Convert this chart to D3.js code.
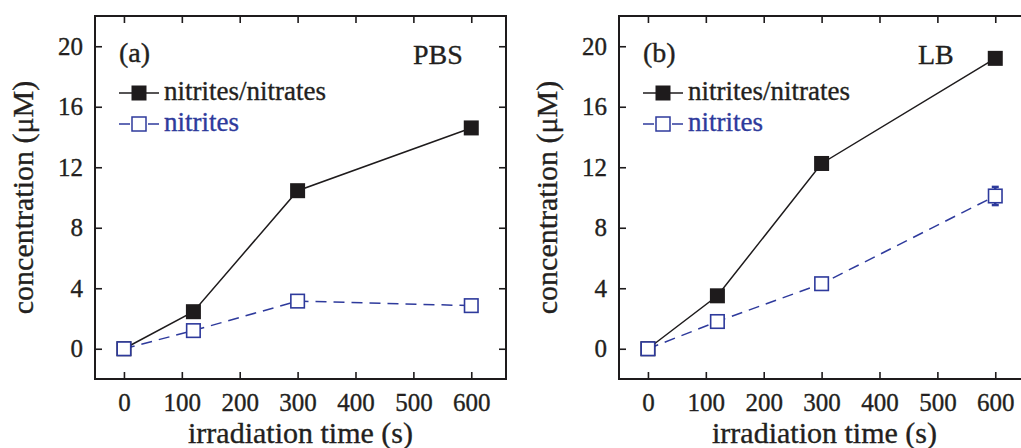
<!DOCTYPE html>
<html>
<head>
<meta charset="utf-8">
<script src="https://cdn.jsdelivr.net/npm/d3@7/dist/d3.min.js"></script>
<style>
  html, body { margin: 0; padding: 0; background: #fff; }
  svg { display: block; }
  text { font-family: "Liberation Serif", "Times New Roman", serif; fill: #231f20; stroke: #231f20; stroke-width: 0.35px; }
  text.blue { fill: #2e3a9c; stroke: #2e3a9c; }
</style>
</head>
<body>
<svg id="chart" width="1021" height="448"></svg>
<script>
// Irradiation times (s)
const times = [0, 120, 300, 600];

// Panel (a): PBS
const pbsTotal = [0, 2.45, 10.45, 14.6];     // nitrites/nitrates (µM)
const pbsNitrite = [0, 1.2, 3.15, 2.85];     // nitrites (µM)
const pbsNitriteErr = [0, 0, 0, 0];

// Panel (b): LB
const lbTotal = [0, 3.5, 12.25, 19.2];
const lbNitrite = [0, 1.8, 4.3, 10.1];
const lbNitriteErr = [0, 0, 0, 0.6];

const xTicks = [0, 100, 200, 300, 400, 500, 600];
const yTicks = [0, 4, 8, 12, 16, 20];

const black = "#1e1b1c";
const blue = "#2e3a9c";

const svg = d3.select("#chart");

const W = 411, H = 363;

function panel(left, top, label, medium, mediumX, total, nitrite, nitriteErr) {
  const g = svg.append("g").attr("transform", `translate(${left},${top})`);
  const x = d3.scaleLinear().domain([-50, 660]).range([0, W]);
  const y = d3.scaleLinear().domain([-2, 22]).range([H, 0]);

  // Inward ticks on all four sides
  const tk = 7;
  const axB = g.append("g").attr("transform", `translate(0,${H})`)
    .call(d3.axisBottom(x).tickValues(xTicks).tickSizeInner(-tk).tickSizeOuter(0).tickPadding(14));
  const axT = g.append("g")
    .call(d3.axisTop(x).tickValues(xTicks).tickSizeInner(-tk).tickSizeOuter(0).tickFormat(""));
  const axL = g.append("g")
    .call(d3.axisLeft(y).tickValues(yTicks).tickSizeInner(-tk).tickSizeOuter(0).tickPadding(12));
  const axR = g.append("g").attr("transform", `translate(${W},0)`)
    .call(d3.axisRight(y).tickValues(yTicks).tickSizeInner(-tk).tickSizeOuter(0).tickFormat(""));
  [axB, axT, axL, axR].forEach(a => {
    a.select(".domain").remove();
    a.selectAll(".tick line").attr("stroke", black).attr("stroke-width", 1.6);
    a.selectAll(".tick text").attr("font-size", 25).attr("fill", black);
  });

  // Frame
  g.append("rect").attr("x", 0).attr("y", 0).attr("width", W).attr("height", H)
    .attr("fill", "none").attr("stroke", black).attr("stroke-width", 2);

  const pts = (vals) => times.map((t, i) => [t, vals[i]]);
  const line = d3.line().x(d => x(d[0])).y(d => y(d[1]));

  g.append("path").datum(pts(total)).attr("d", line)
    .attr("fill", "none").attr("stroke", black).attr("stroke-width", 1.5);
  g.append("path").datum(pts(nitrite)).attr("d", line)
    .attr("fill", "none").attr("stroke", blue).attr("stroke-width", 1.5)
    .attr("stroke-dasharray", "11,7");

  const s = 15;
  g.selectAll(".tot").data(pts(total)).enter().append("rect")
    .attr("x", d => x(d[0]) - s / 2).attr("y", d => y(d[1]) - s / 2)
    .attr("width", s).attr("height", s).attr("fill", black);

  // Error bars on nitrites
  const cap = 3.5;
  times.forEach((t, i) => {
    const e = nitriteErr[i];
    if (!e) return;
    const cx = x(t);
    const eg = g.append("g").attr("stroke", blue).attr("stroke-width", 2.5);
    eg.append("line").attr("x1", cx).attr("x2", cx).attr("y1", y(nitrite[i] - e)).attr("y2", y(nitrite[i] + e));
    eg.append("line").attr("x1", cx - cap).attr("x2", cx + cap).attr("y1", y(nitrite[i] - e)).attr("y2", y(nitrite[i] - e));
    eg.append("line").attr("x1", cx - cap).attr("x2", cx + cap).attr("y1", y(nitrite[i] + e)).attr("y2", y(nitrite[i] + e));
  });

  const so = 13.5;
  g.selectAll(".nit").data(pts(nitrite)).enter().append("rect")
    .attr("x", d => x(d[0]) - so / 2).attr("y", d => y(d[1]) - so / 2)
    .attr("width", so).attr("height", so).attr("fill", "#fff")
    .attr("stroke", blue).attr("stroke-width", 1.6);

  // Panel label and medium
  g.append("text").attr("x", 24).attr("y", 46).attr("font-size", 28).text(label);
  g.append("text").attr("x", mediumX).attr("y", 48).attr("font-size", 28).text(medium);

  // Legend
  const lx = 24, ly1 = 77, ly2 = 108;
  g.append("line").attr("x1", lx).attr("x2", lx + 40).attr("y1", ly1).attr("y2", ly1)
    .attr("stroke", black).attr("stroke-width", 1.5);
  g.append("rect").attr("x", lx + 20 - s / 2).attr("y", ly1 - s / 2).attr("width", s).attr("height", s).attr("fill", black);
  g.append("text").attr("x", lx + 45).attr("y", ly1 + 7).attr("font-size", 27).text("nitrites/nitrates");

  g.append("line").attr("x1", lx).attr("x2", lx + 11).attr("y1", ly2).attr("y2", ly2)
    .attr("stroke", blue).attr("stroke-width", 1.5);
  g.append("line").attr("x1", lx + 29).attr("x2", lx + 40).attr("y1", ly2).attr("y2", ly2)
    .attr("stroke", blue).attr("stroke-width", 1.5);
  g.append("rect").attr("x", lx + 20 - 7).attr("y", ly2 - 7).attr("width", 14).attr("height", 14)
    .attr("fill", "#fff").attr("stroke", blue).attr("stroke-width", 1.5);
  g.append("text").attr("class", "blue").attr("x", lx + 45).attr("y", ly2 + 7).attr("font-size", 27)
    .text("nitrites");

  // Axis titles
  g.append("text").attr("x", W / 2).attr("y", 427).attr("text-anchor", "middle")
    .attr("font-size", 30).text("irradiation time (s)");
  g.append("text").attr("transform", `translate(${-62},${H / 2}) rotate(-90)`)
    .attr("text-anchor", "middle").attr("font-size", 30).text("concentration (\u03bcM)");
}

panel(95, 16, "(a)", "PBS", 318, pbsTotal, pbsNitrite, pbsNitriteErr);
panel(619, 16, "(b)", "LB", 299, lbTotal, lbNitrite, lbNitriteErr);
</script>
</body>
</html>
